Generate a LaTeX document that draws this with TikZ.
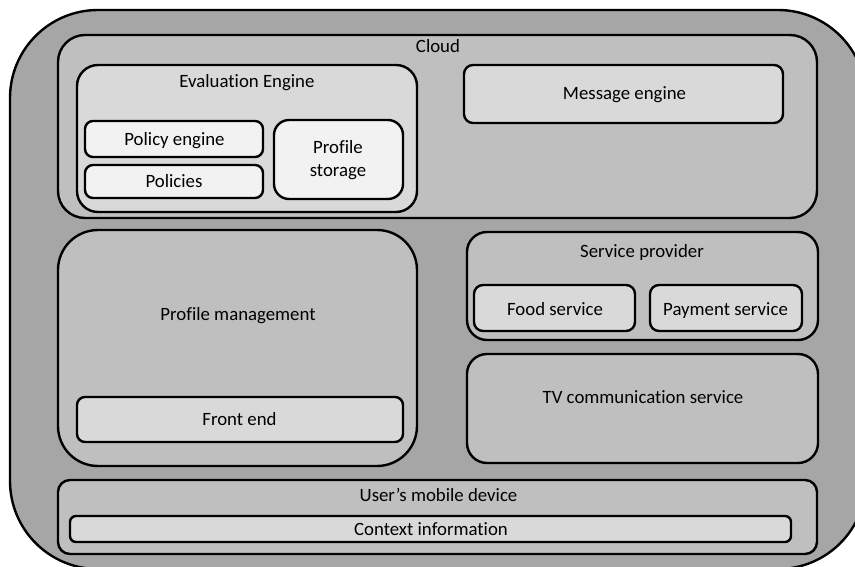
\documentclass[tikz,border=0pt]{standalone}
\usepackage{fontspec}
\setmainfont{Carlito}[Ligatures=NoCommon]
\begin{document}
\begin{tikzpicture}[x=1pt,y=-1pt,
  box/.style={draw=black,line width=2.4pt,fill=#1,rectangle,inner sep=0pt,outer sep=0pt},
  lbl/.style={anchor=base,inner sep=0pt,font=\fontsize{18.8}{23}\selectfont,text=black}]
\definecolor{gA}{HTML}{A6A6A6}
\definecolor{gB}{HTML}{BFBFBF}
\definecolor{gC}{HTML}{D9D9D9}
\definecolor{gD}{HTML}{F2F2F2}
\useasboundingbox (0,0) rectangle (855,567);
\clip (0,0) rectangle (855,567);
\fill[white] (0,0) rectangle (855,567);

% outer device frame
\node[box=gA,rounded corners=88pt,minimum width=856pt,minimum height=559pt] (device) at (438,289.5) {};

% cloud and its parts
\node[box=gB,rounded corners=27pt,minimum width=759pt,minimum height=183pt] (cloud) at (437.5,126.5) {};
\node[box=gC,rounded corners=21pt,minimum width=340pt,minimum height=147pt] (eval) at (247,138.5) {};
\node[box=gD,rounded corners=8pt,minimum width=178pt,minimum height=36pt] (poleng) at (174,139) {};
\node[box=gD,rounded corners=8pt,minimum width=178pt,minimum height=33pt] (policies) at (174,181.5) {};
\node[box=gD,rounded corners=15pt,minimum width=129pt,minimum height=79pt] (profstor) at (338.5,159.5) {};
\node[box=gC,rounded corners=9pt,minimum width=319pt,minimum height=58pt] (msg) at (623.5,94) {};

% profile management
\node[box=gB,rounded corners=40pt,minimum width=359pt,minimum height=236pt] (profmgmt) at (237.5,348) {};
\node[box=gC,rounded corners=8pt,minimum width=326pt,minimum height=45pt] (frontend) at (240,419.5) {};

% service provider
\node[box=gB,rounded corners=20pt,minimum width=351pt,minimum height=108pt] (servprov) at (642.5,286) {};
\node[box=gC,rounded corners=9pt,minimum width=161pt,minimum height=46pt] (food) at (554.5,308) {};
\node[box=gC,rounded corners=9pt,minimum width=152pt,minimum height=46pt] (payment) at (726,308) {};

% TV communication
\node[box=gB,rounded corners=20pt,minimum width=351pt,minimum height=109pt] (tv) at (642.5,408.5) {};

% mobile device
\node[box=gB,rounded corners=12pt,minimum width=759pt,minimum height=74pt] (mobile) at (437.5,517) {};
\node[box=gC,rounded corners=6pt,minimum width=721pt,minimum height=26pt] (context) at (430.5,529) {};

% labels
\node[lbl] (tcloud) at (438,53) {Cloud};
\node[lbl] (teval) at (247,88) {Evaluation Engine};
\node[lbl] (tpoleng) at (174.5,146) {Policy engine};
\node[lbl] (tpolicies) at (174,188) {Policies};
\node[lbl] (tprof1) at (338,154) {Profile};
\node[lbl] (tprof2) at (338,177) {storage};
\node[lbl] (tmsg) at (624.5,100) {Message engine};
\node[lbl] (tprofmgmt) at (238,320) {Profile management};
\node[lbl] (tfront) at (239.5,425) {Front end};
\node[lbl] (tserv) at (642,258) {Service provider};
\node[lbl] (tfood) at (555,315) {Food service};
\node[lbl] (tpay) at (725.5,315) {Payment service};
\node[lbl] (ttv) at (643,403) {TV communication service};
\node[lbl] (tmobile) at (438.5,501) {User’s mobile device};
\node[lbl] (tcontext) at (431,535) {Context information};
\end{tikzpicture}
\end{document}
